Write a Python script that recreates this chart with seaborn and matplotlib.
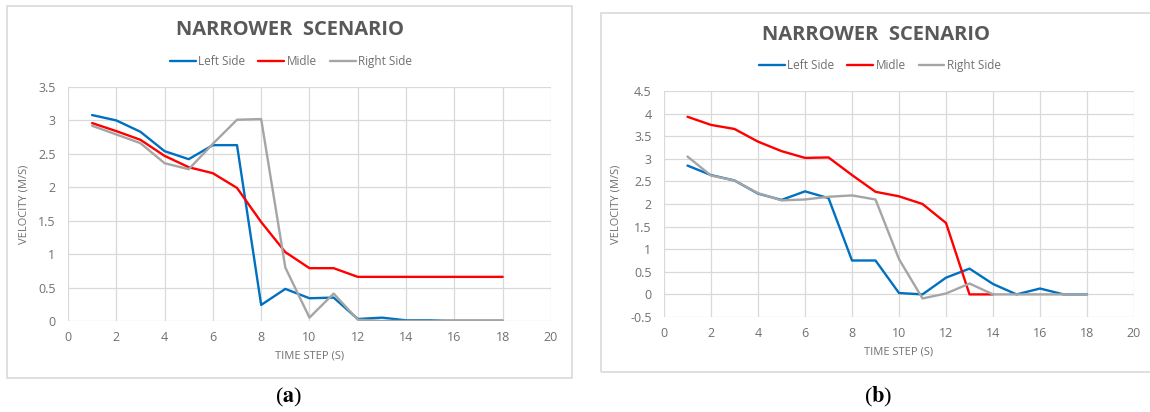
import numpy as np
import pandas as pd
import matplotlib
matplotlib.use("Agg")
import matplotlib.pyplot as plt
import seaborn as sns
from matplotlib.patches import Rectangle

sns.set_theme(style="white")
plt.rcParams['font.family'] = ['Open Sans', 'DejaVu Sans']

# time steps (s)
steps = list(range(1, 19))

# (a) narrower scenario
a_left = [3.08, 3.00, 2.83, 2.54, 2.42, 2.63, 2.63, 0.24, 0.48, 0.34, 0.35, 0.03, 0.05, 0.01, 0.01, 0.00, 0.00, 0.00]
a_mid = [2.96, 2.84, 2.71, 2.47, 2.30, 2.21, 1.99, 1.48, 1.03, 0.79, 0.79, 0.66, 0.66, 0.66, 0.66, 0.66, 0.66, 0.66]
a_right = [2.92, 2.79, 2.66, 2.36, 2.27, 2.65, 3.01, 3.02, 0.80, 0.05, 0.41, 0.02, 0.00, 0.00, 0.00, 0.01, 0.01, 0.01]

# (b) narrower scenario
b_left = [2.85, 2.64, 2.52, 2.23, 2.09, 2.28, 2.13, 0.75, 0.75, 0.03, 0.00, 0.37, 0.57, 0.23, 0.00, 0.13, 0.00, 0.00]
b_mid = [3.93, 3.75, 3.66, 3.38, 3.17, 3.02, 3.03, 2.64, 2.27, 2.17, 2.00, 1.58, 0.00, 0.00]
b_right = [3.05, 2.63, 2.52, 2.24, 2.08, 2.10, 2.16, 2.19, 2.10, 0.78, -0.09, 0.02, 0.24, 0.00, 0.00, 0.00, 0.00, 0.00]

series = ['Left Side', 'Midle', 'Right Side']
colors = {'Left Side': '#0070C0', 'Midle': '#FF0000', 'Right Side': '#A5A5A5'}
grey = '#595959'
light = '#707070'


def long_form(left, mid, right):
    frames = []
    for name, vals in zip(series, [left, mid, right]):
        frames.append(pd.DataFrame({'step': steps[:len(vals)], 'v': vals, 'series': name}))
    return pd.concat(frames, ignore_index=True)


fig = plt.figure(figsize=(11.5, 4.12), dpi=100)

# chart frames
fig.patches.append(Rectangle((0.0061, 0.0825), 0.4913, 0.903, transform=fig.transFigure,
                             fill=False, edgecolor='#D9D9D9', lw=1.2))
fig.patches.append(Rectangle((0.5226, 0.097), 0.49, 0.871, transform=fig.transFigure,
                             fill=False, edgecolor='#D9D9D9', lw=1.2))

panels = [
    dict(rect=[0.0591, 0.2209, 0.420, 0.568], data=(a_left, a_mid, a_right),
         ylim=(0, 3.5), title_xy=(0.252, 0.927), leg_xy=(0.253, 0.850), cap_x=0.251),
    dict(rect=[0.5774, 0.2306, 0.4087, 0.5485], data=(b_left, b_mid, b_right),
         ylim=(-0.5, 4.5), title_xy=(0.762, 0.915), leg_xy=(0.765, 0.840), cap_x=0.764),
]

for p, cap in zip(panels, ['a', 'b']):
    ax = fig.add_axes(p['rect'])
    df = long_form(*p['data'])
    sns.lineplot(data=df, x='step', y='v', hue='series', palette=colors, lw=1.7, ax=ax)

    ax.set_xlim(0, 20)
    ax.set_ylim(*p['ylim'])
    ax.set_xticks(np.arange(0, 21, 2))
    ax.set_yticks(np.arange(p['ylim'][0], p['ylim'][1] + 0.01, 0.5))
    ax.set_yticklabels([f'{t:g}' for t in ax.get_yticks()])
    ax.grid(True, color='#D9D9D9', lw=0.9)
    ax.set_axisbelow(True)
    for s in ax.spines.values():
        s.set_visible(False)
    ax.tick_params(axis='both', length=0, labelsize=9, labelcolor=light)
    ax.tick_params(axis='x', pad=7)
    ax.tick_params(axis='y', pad=9)
    ax.set_xlabel('TIME STEP (S)', fontsize=8, color=light, labelpad=5)
    ax.set_ylabel('VELOCITY (M/S)', fontsize=8, color=light, labelpad=6)

    handles, labels = ax.get_legend_handles_labels()
    ax.legend(handles, labels, loc='center', bbox_to_anchor=p['leg_xy'],
              bbox_transform=fig.transFigure, ncol=3, frameon=False,
              fontsize=8.5, labelcolor=light, handlelength=2.2, handletextpad=0.2,
              columnspacing=1.1)

    fig.text(p['title_xy'][0], p['title_xy'][1], 'NARROWER  SCENARIO', ha='center', va='center',
             fontsize=14.5, fontweight='bold', color=grey)
    serif = ['Liberation Serif', 'DejaVu Serif']
    fig.text(p['cap_x'], 0.036, '(' + r'$\mathbf{' + cap + '}$' + ')', ha='center', va='center',
             fontsize=16, family=serif, color='black', math_fontfamily='stix')

fig.savefig('out.png', dpi=100)
